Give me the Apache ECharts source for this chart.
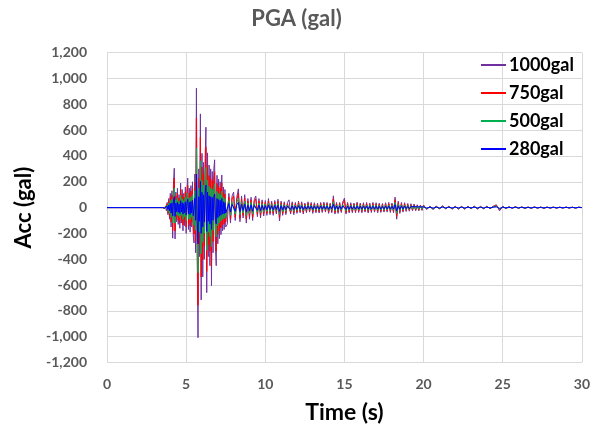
<!DOCTYPE html>
<html><head><meta charset="utf-8">
<script src="https://cdn.jsdelivr.net/npm/echarts@6/dist/echarts.min.js"></script>
<style>html,body{margin:0;padding:0;background:#fff}#c{width:593px;height:431px}</style>
</head><body><div id="c"></div>
<script>
var seriesNames = ['1000gal','750gal','500gal','280gal'];
var colors = ['#7030A0','#FF0000','#00B050','#0000FF'];
var time = [0,3.5,
3.6,3.65,3.7,3.75,3.8,3.85,3.9,3.95,
4,4.05,4.1,4.15,4.2,4.25,4.3,4.35,4.4,4.45,4.5,4.55,4.6,4.65,4.7,4.75,4.8,4.85,4.9,4.95,
5,5.05,5.1,5.15,5.2,5.25,5.3,5.35,5.4,5.45,5.5,5.55,5.6,5.65,5.7,5.75,5.8,5.85,5.9,5.95,
6,6.05,6.1,6.15,6.2,6.25,6.3,6.35,6.4,6.45,6.5,6.55,6.6,6.65,6.7,6.75,6.8,6.85,6.9,6.95,
7,7.05,7.1,7.15,7.2,7.25,7.3,7.35,7.4,7.45,7.5,
7.6,7.7,7.8,7.9,8,8.1,8.2,8.3,8.4,8.5,
8.6,8.7,8.8,8.9,9,9.1,9.2,9.3,9.4,9.5,
9.6,9.7,9.8,9.9,10,10.1,10.2,10.3,10.4,10.5,
10.6,10.7,10.8,10.9,11,11.1,11.2,11.3,11.4,11.5,
11.6,11.7,11.8,11.9,12,12.1,12.2,12.3,12.4,12.5,
12.6,12.7,12.8,12.9,13,13.1,13.2,13.3,13.4,13.5,
13.6,13.7,13.8,13.9,14,14.1,14.2,14.3,14.4,14.5,
14.6,14.7,14.8,14.9,15,15.1,15.2,15.3,15.4,15.5,
15.6,15.7,15.8,15.9,16,16.1,16.2,16.3,16.4,16.5,
16.6,16.7,16.8,16.9,17,17.1,17.2,17.3,17.4,17.5,
17.6,17.7,17.8,17.9,18,18.1,18.2,18.3,18.4,18.5,
18.6,18.7,18.8,18.9,19,19.1,19.2,19.3,19.4,19.5,
19.6,19.7,19.8,19.9,20,
20.2,20.4,20.6,20.8,21,21.2,21.4,21.6,21.8,22,
22.2,22.4,22.6,22.8,23,23.2,23.4,23.6,23.8,24,
24.2,24.4,24.6,24.8,25,25.2,25.4,25.6,25.8,26,
26.2,26.4,26.6,26.8,27,27.2,27.4,27.6,27.8,28,
28.2,28.4,28.6,28.8,29,29.2,29.4,29.6,29.8,30];

var acc1000 = [0,0,
5,-8,12,-25,40,-55,70,-90,
110,-150,130,-237,180,305,-243,120,-110,150,-130,100,-160,190,-120,140,-180,110,-140,160,
-200,130,228,-170,150,-190,170,-150,200,-220,-274,260,-350,925,-400,-1008,300,-380,726,-715,
420,-537,350,-400,380,623,-659,424,-380,330,-450,300,-605,280,-350,300,370,-300,-450,250,
-280,220,-240,200,-210,253,-180,160,-170,140,-150,
-130,110,-120,90,120,-100,80,145,-110,90,
-80,100,-120,70,-90,80,-100,60,90,-70,
70,-80,60,-65,55,-60,70,-55,50,-60,
55,-50,65,-103,50,-60,45,-55,40,60,
-50,45,-55,40,-45,50,-40,45,-50,35,
-40,45,-35,40,-45,38,-40,35,-42,40,
-38,42,-35,40,-45,35,-40,91,-50,40,
-45,40,-38,45,73,-50,40,-42,38,-40,
35,-40,42,-38,35,-40,38,-35,40,-42,
35,-38,40,-35,38,-40,35,-38,32,-35,
38,-35,40,-38,35,-40,81,-90,50,-45,
40,-35,38,-30,32,-28,30,-25,28,-25,
22,-25,20,-22,20,
-15,12,-16,13,-12,15,-11,12,-13,11,
-12,10,-13,11,-10,12,-11,10,-10,12,
-10,11,22,-25,10,-8,7,-6,8,-6,
6,-7,5,-6,6,-5,5,-6,5,-5,
5,-5,4,-4,5,-4,4,-5,4,0];

var acc750 = [0,0,
4,-6,9,-19,30,-41,52,-68,
82,-112,98,-178,135,229,-182,90,-82,112,-98,75,-120,142,-90,105,-135,82,-105,120,
-150,98,171,-128,112,-142,128,-112,150,-165,-205,195,-262,694,-300,-756,225,-285,545,-536,
315,-403,262,-300,285,467,-494,318,-285,248,-338,225,-454,210,-262,225,278,-225,-338,188,
-210,165,-180,150,-158,190,-135,120,-128,105,-112,
-98,82,-90,68,90,-75,60,109,-82,68,
-60,75,-90,52,-68,60,-75,45,68,-52,
52,-60,45,-49,41,-45,52,-41,38,-45,
41,-38,49,-77,38,-45,34,-41,30,45,
-38,34,-41,30,-34,38,-30,34,-38,26,
-30,34,-26,30,-34,28,-30,26,-32,30,
-28,32,-26,30,-34,26,-30,68,-38,30,
-34,30,-28,34,55,-38,30,-32,28,-30,
26,-30,32,-28,26,-30,28,-26,30,-32,
26,-28,30,-26,28,-30,26,-28,24,-26,
28,-26,30,-28,26,-30,61,-68,38,-34,
30,-26,28,-22,24,-21,22,-19,21,-19,
16,-19,15,-16,15,
-11,9,-12,10,-9,11,-8,9,-10,8,
-9,8,-10,8,-7,9,-8,7,-8,9,
-7,8,16,-19,7,-6,5,-5,6,-5,
5,-5,4,-5,5,-4,4,-5,4,-4,
4,-4,3,-3,4,-3,3,-4,3,0];

var acc500 = [0,0,
2,-4,6,-12,20,-28,35,-45,
55,-75,65,-118,90,152,-121,60,-55,75,-65,50,-80,95,-60,70,-90,55,-70,80,
-100,65,114,-85,75,-95,85,-75,100,-110,-137,130,-175,462,-200,-504,150,-190,363,-357,
210,-268,175,-200,190,311,-330,212,-190,165,-225,150,-302,140,-175,150,185,-150,-225,125,
-140,110,-120,100,-105,126,-90,80,-85,70,-75,
-65,55,-60,45,60,-50,40,72,-55,45,
-40,50,-60,35,-45,40,-50,30,45,-35,
35,-40,30,-32,28,-30,35,-28,25,-30,
28,-25,32,-52,25,-30,22,-28,20,30,
-25,22,-28,20,-22,25,-20,22,-25,18,
-20,22,-18,20,-22,19,-20,18,-21,20,
-19,21,-18,20,-22,18,-20,45,-25,20,
-22,20,-19,22,36,-25,20,-21,19,-20,
18,-20,21,-19,18,-20,19,-18,20,-21,
18,-19,20,-18,19,-20,18,-19,16,-18,
19,-18,20,-19,18,-20,40,-45,25,-22,
20,-18,19,-15,16,-14,15,-12,14,-12,
11,-12,10,-11,10,
-8,6,-8,6,-6,7,-6,6,-6,5,
-6,5,-6,5,-5,6,-5,5,-5,6,
-5,5,11,-12,5,-4,4,-3,4,-3,
3,-4,3,-3,3,-3,2,-3,2,-2,
2,-2,2,-2,2,-2,2,-2,2,0];

var acc280 = [0,0,
1,-2,3,-7,11,-15,20,-25,
31,-42,36,-66,50,85,-68,34,-31,42,-36,28,-45,53,-34,39,-50,31,-39,45,
-56,36,64,-48,42,-53,48,-42,56,-62,-77,73,-98,259,-112,-282,84,-106,203,-200,
118,-150,98,-112,106,174,-185,119,-106,92,-126,84,-169,78,-98,84,104,-84,-126,70,
-78,62,-67,56,-59,71,-50,45,-48,39,-42,
-36,31,-34,25,34,-28,22,41,-31,25,
-22,28,-34,20,-25,22,-28,17,25,-20,
20,-22,17,-18,15,-17,20,-15,14,-17,
15,-14,18,-29,14,-17,13,-15,11,17,
-14,13,-15,11,-13,14,-11,13,-14,10,
-11,13,-10,11,-13,11,-11,10,-12,11,
-11,12,-10,11,-13,10,-11,25,-14,11,
-13,11,-11,13,20,-14,11,-12,11,-11,
10,-11,12,-11,10,-11,11,-10,11,-12,
10,-11,11,-10,11,-11,10,-11,9,-10,
11,-10,11,-11,10,-11,23,-25,14,-13,
11,-10,11,-8,9,-8,8,-7,8,-7,
6,-7,6,-6,6,
-4,3,-4,3,-3,4,-3,3,-3,3,
-3,3,-3,3,-2,3,-3,2,-3,3,
-2,3,6,-7,3,-2,2,-2,2,-2,
2,-2,1,-2,2,-1,1,-2,1,-1,
1,-1,1,-1,1,-1,1,-1,1,0];

var allValues = [acc1000, acc750, acc500, acc280];
function pairs(vals){ return time.map(function(t,i){ return [t, vals[i]]; }); }

var chart = echarts.init(document.getElementById('c'), null, {renderer:'canvas'});
var font = 'Lato, "Open Sans", sans-serif';
chart.setOption({
  animation:false,
  backgroundColor:'#fff',
  title:{text:'PGA (gal)', left:'center', top:3,
    textStyle:{fontFamily:font, fontSize:22, fontWeight:'bold', color:'#595959'}},
  legend:{orient:'vertical', left:476, top:51, itemWidth:25, itemHeight:2, itemGap:10, icon:'rect',
    data:seriesNames,
    textStyle:{fontFamily:font, fontSize:18, fontWeight:'bold', color:'#000', lineHeight:18, padding:[0,0,0,-2]}},
  grid:{left:107, right:7.5, top:52.7, bottom:68.5, containLabel:false},
  xAxis:{type:'value', min:0, max:30, interval:5,
    name:'Time (s)', nameLocation:'middle', nameGap:39,
    nameTextStyle:{fontFamily:font, fontSize:23, fontWeight:'bold', color:'#000'},
    axisLine:{show:false}, axisTick:{show:false},
    axisLabel:{fontFamily:font, fontSize:14, fontWeight:'bold', color:'#595959', margin:15},
    splitLine:{show:true, lineStyle:{color:'#d9d9d9', width:1}}},
  yAxis:{type:'value', min:-1200, max:1200, interval:200,
    name:'Acc (gal)', nameLocation:'middle', nameGap:66, nameRotate:90,
    nameTextStyle:{fontFamily:font, fontSize:22, fontWeight:'bold', color:'#000'},
    axisLine:{show:true, lineStyle:{color:'#d9d9d9'}}, axisTick:{show:false},
    axisLabel:{fontFamily:font, fontSize:14, fontWeight:'bold', color:'#595959', margin:20,
      formatter:function(v){ return v.toLocaleString('en-US'); }},
    splitLine:{show:true, lineStyle:{color:'#d9d9d9', width:1}}},
  series: seriesNames.map(function(n,i){
    return {name:n, type:'line', data:pairs(allValues[i]), showSymbol:false, symbol:'none',
      lineStyle:{color:colors[i], width:1}, itemStyle:{color:colors[i]}, z:2+i};
  })
});
</script></body></html>
